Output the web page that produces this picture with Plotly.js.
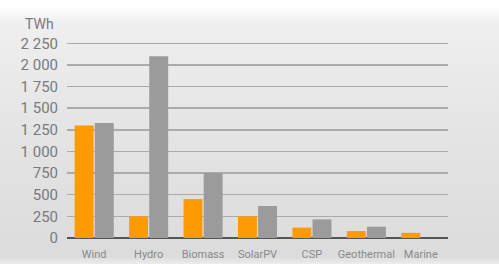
<!DOCTYPE html>
<html>
<head>
<meta charset="utf-8">
<script src="https://cdn.plot.ly/plotly-3.0.1.min.js"></script>
<style>
html,body{margin:0;padding:0;}
body{width:499px;height:264px;overflow:hidden;
background:linear-gradient(to bottom,#ffffff 0px,#ffffff 7px,#efefef 22px,#e5e5e5 120px,#dcdcdc 250px,#dcdcdc 257px,#ececec 264px);}
#chart{width:499px;height:264px;}
</style>
</head>
<body>
<div id="chart"></div>
<script>
const categories = ["Wind","Hydro","Biomass","SolarPV","CSP","Geothermal","Marine"];
const seriesOrange = [1300, 250, 450, 250, 120, 80, 60];
const seriesGray = [1330, 2100, 750, 370, 215, 130, 0];
const yTickVals = [0, 250, 500, 750, 1000, 1250, 1500, 1750, 2000, 2250];
const yTickText = ["0","250","500","750","1 000","1 250","1 500","1 750","2 000","2 250"];
const unitLabel = "TWh";

const data = [
  {type:"bar", x:categories, y:seriesOrange, marker:{color:"#ff9a00"}, hoverinfo:"none"},
  {type:"bar", x:categories, y:seriesGray, marker:{color:"#9b9b9b"}, hoverinfo:"none"}
];
const layout = {
  width:499, height:264,
  margin:{l:67, r:51, t:39, b:26},
  paper_bgcolor:"rgba(0,0,0,0)",
  plot_bgcolor:"rgba(0,0,0,0)",
  showlegend:false,
  barmode:"group",
  bargap:0.26,
  bargroupgap:0.06,
  font:{family:"Roboto, Liberation Sans, sans-serif", color:"#7a7a7a"},
  xaxis:{
    tickfont:{size:11, color:"#8a8a8a"},
    showgrid:false, zeroline:false, showline:false,
    ticks:"outside", ticklen:6, tickcolor:"rgba(0,0,0,0)",
    fixedrange:true
  },
  yaxis:{
    range:[0,2300],
    tickvals:yTickVals, ticktext:yTickText,
    tickfont:{size:15, color:"#7a7a7a"},
    showgrid:true, gridcolor:"#ababab", gridwidth:1.5,
    zeroline:true, zerolinecolor:"#555555", zerolinewidth:2.5,
    showline:false,
    ticks:"outside", ticklen:5, tickcolor:"rgba(0,0,0,0)",
    fixedrange:true
  },
  annotations:[{
    text:unitLabel, xref:"paper", yref:"paper", x:-0.03, y:1.075,
    xanchor:"right", yanchor:"middle", showarrow:false,
    font:{size:14, color:"#7a7a7a"}
  }]
};
Plotly.newPlot("chart", data, layout, {displayModeBar:false, staticPlot:true});
</script>
</body>
</html>
